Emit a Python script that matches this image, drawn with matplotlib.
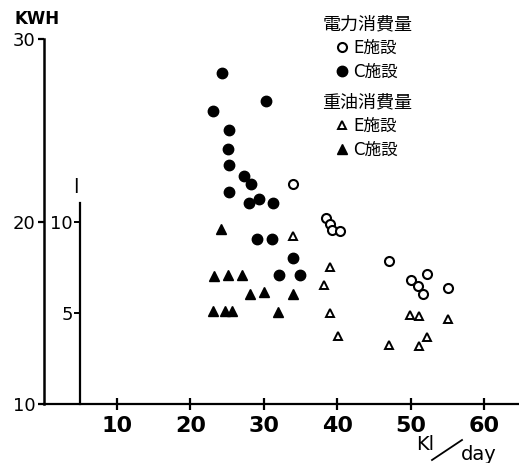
import matplotlib
matplotlib.use('Agg')
import matplotlib.pyplot as plt
from matplotlib.lines import Line2D

plt.rcParams['font.family'] = ['DejaVu Sans', 'Noto Sans CJK JP']

# electricity use, KWH (left axis)
e_elec_x = [34.0, 38.5, 39.0, 39.2, 40.3, 47.0, 52.2, 50.0, 51.0, 51.6, 55.1]
e_elec_y = [22.05, 20.2, 19.85, 19.55, 19.5, 17.85, 17.15, 16.8, 16.45, 16.05, 16.35]

c_elec_x = [24.3, 30.3, 23.1, 25.25, 25.15, 25.25, 27.3, 28.2, 25.25, 28.0, 29.35,
            31.2, 29.1, 31.05, 34.0, 32.05, 34.9]
c_elec_y = [28.15, 26.6, 26.05, 25.05, 24.0, 23.1, 22.5, 22.05, 21.6, 21.05, 21.25,
            21.0, 19.05, 19.05, 18.0, 17.05, 17.05]

# heavy oil use, l (inner axis)
e_oil_x = [34.0, 39.0, 38.1, 39.0, 40.05, 49.9, 51.15, 55.0, 47.05, 51.15, 52.2]
e_oil_y = [9.2, 7.5, 6.55, 5.0, 3.75, 4.9, 4.85, 4.65, 3.25, 3.2, 3.65]

c_oil_x = [24.1, 23.2, 25.1, 27.0, 28.1, 30.05, 34.0, 23.1, 24.65, 25.6, 31.95]
c_oil_y = [9.6, 7.0, 7.05, 7.1, 6.05, 6.15, 6.05, 5.1, 5.1, 5.1, 5.05]

x_ticks = [10, 20, 30, 40, 50, 60]
kwh_ticks = [10, 20, 30]
oil_ticks = [5, 10]

W, H = 519, 463
fig = plt.figure(figsize=(W / 100, H / 100), dpi=100)
rect = [43.5 / W, 59 / H, (W - 43.5) / W, 364.7 / H]

ax = fig.add_axes(rect)
ax.set_xlim(0, 64.7)
ax.set_ylim(10, 30)
for s in ('top', 'right'):
    ax.spines[s].set_visible(False)
ax.spines['left'].set_linewidth(1.8)
ax.spines['bottom'].set_linewidth(1.6)
ax.set_xticks(x_ticks)
ax.set_xticklabels([str(t) for t in x_ticks], fontsize=16, fontweight='bold')
ax.set_yticks(kwh_ticks)
ax.set_yticklabels([str(t) for t in kwh_ticks], fontsize=13)
ax.tick_params(axis='x', direction='inout', length=8, width=1.6, pad=5)
ax.tick_params(axis='y', direction='out', length=4, width=1.6, pad=2)

h1, = ax.plot(e_elec_x, e_elec_y, 'o', ms=6.5, mfc='white', mec='black', mew=1.5)
h2, = ax.plot(c_elec_x, c_elec_y, 'o', ms=7.5, color='black')

ax2 = fig.add_axes(rect)
ax2.patch.set_visible(False)
ax2.set_xlim(0, 64.7)
ax2.set_ylim(0, 20)
for s in ('top', 'right', 'bottom'):
    ax2.spines[s].set_visible(False)
ax2.spines['left'].set_position(('data', 5))
ax2.spines['left'].set_bounds(0, 11)
ax2.spines['left'].set_linewidth(1.6)
ax2.set_xticks([])
ax2.set_yticks(oil_ticks)
ax2.set_yticklabels([str(t) for t in oil_ticks], fontsize=13)
ax2.tick_params(axis='y', direction='out', length=4.5, width=1.4, pad=1)
ax2.text(4.4, 11.9, 'l', fontsize=14, ha='center', va='center')

h3, = ax2.plot(e_oil_x, e_oil_y, '^', ms=6, mfc='white', mec='black', mew=1.4)
h4, = ax2.plot(c_oil_x, c_oil_y, '^', ms=7.5, color='black')

leg_kw = dict(loc='upper left', bbox_transform=fig.transFigure, frameon=False,
              borderpad=0, handlelength=0.6, handletextpad=0.4, labelspacing=0.35,
              fontsize=12, title_fontsize=13)
leg1 = ax2.legend([h1, h2], ['E施設', 'C施設'], title='電力消費量',
                  bbox_to_anchor=(314 / W, 1 - 7 / H), **leg_kw)
ax2.add_artist(leg1)
ax2.legend([h3, h4], ['E施設', 'C施設'], title='重油消費量',
           bbox_to_anchor=(314 / W, 1 - 85 / H), **leg_kw)

fig.text(37 / W, 1 - 19 / H, 'KWH', fontsize=12, fontweight='bold',
         ha='center', va='center')
fig.text(425 / W, 1 - 445 / H, 'Kl', fontsize=14, ha='center', va='center')
fig.text(479 / W, 1 - 454 / H, 'day', fontsize=14, ha='center', va='center')
fig.add_artist(Line2D([432 / W, 462 / W], [1 - 460 / H, 1 - 440 / H],
                      transform=fig.transFigure, color='black', lw=1.3))

fig.savefig('out.png', dpi=100)
